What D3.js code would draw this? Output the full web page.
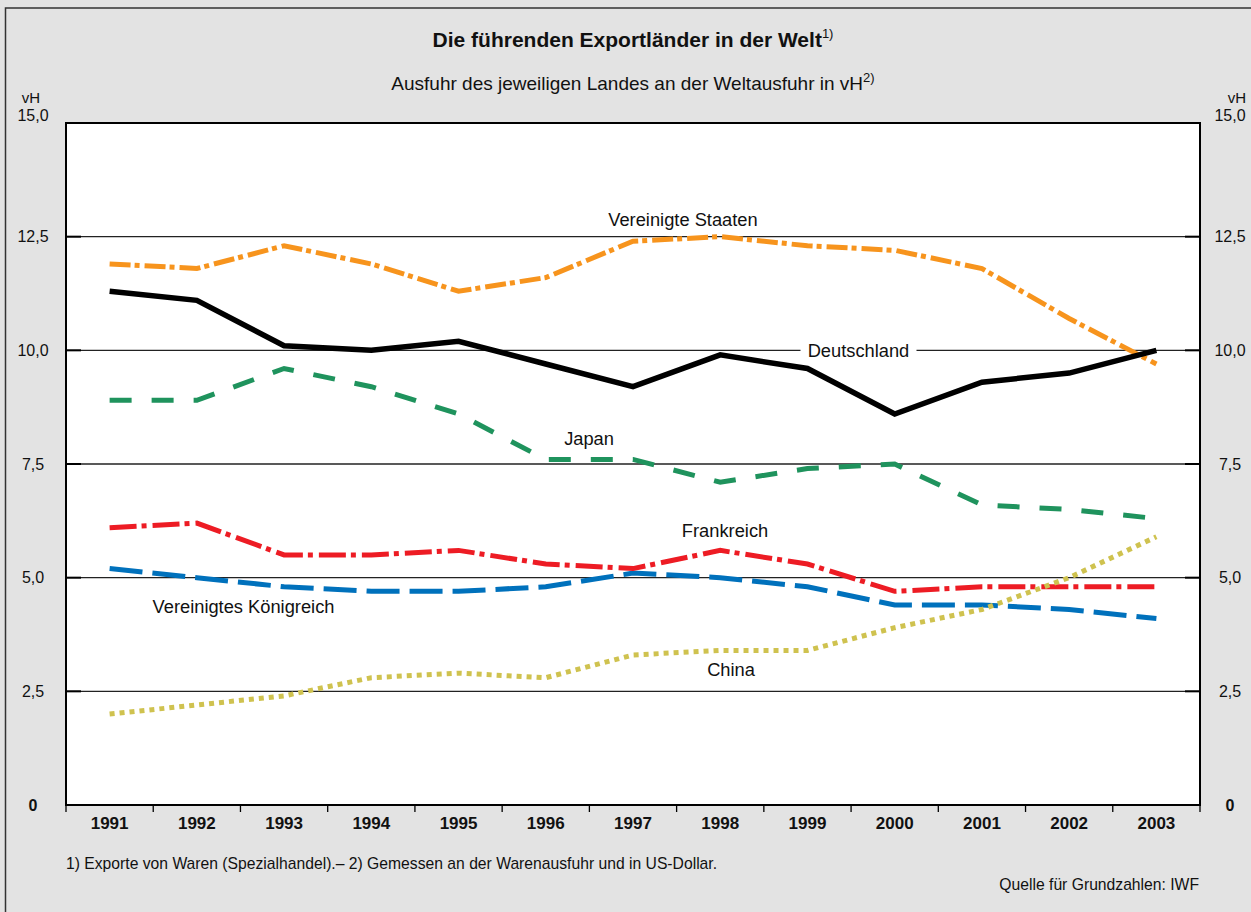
<!DOCTYPE html>
<html>
<head>
<meta charset="utf-8">
<script src="https://cdn.jsdelivr.net/npm/d3@7"></script>
<style>
  html, body { margin: 0; padding: 0; background: #e3e3e3; }
  svg { display: block; font-family: "Liberation Sans", Arial, Helvetica, sans-serif; }
</style>
</head>
<body>
<svg id="chart" width="1251" height="912"></svg>
<script>
// Anteil an der Weltausfuhr in vH, 1991–2003
const years = ["1991","1992","1993","1994","1995","1996","1997","1998","1999","2000","2001","2002","2003"];
const usa     = [11.9, 11.8, 12.3, 11.9, 11.3, 11.6, 12.4, 12.5, 12.3, 12.2, 11.8, 10.7, 9.7];
const germany = [11.3, 11.1, 10.1, 10.0, 10.2, 9.7, 9.2, 9.9, 9.6, 8.6, 9.3, 9.5, 10.0];
const japan   = [8.9, 8.9, 9.6, 9.2, 8.6, 7.6, 7.6, 7.1, 7.4, 7.5, 6.6, 6.5, 6.3];
const france  = [6.1, 6.2, 5.5, 5.5, 5.6, 5.3, 5.2, 5.6, 5.3, 4.7, 4.8, 4.8, 4.8];
const uk      = [5.2, 5.0, 4.8, 4.7, 4.7, 4.8, 5.1, 5.0, 4.8, 4.4, 4.4, 4.3, 4.1];
const china   = [2.0, 2.2, 2.4, 2.8, 2.9, 2.8, 3.3, 3.4, 3.4, 3.9, 4.3, 5.0, 5.9];
const yTicks  = [0, 2.5, 5, 7.5, 10, 12.5, 15];
const yTickLabels = ["0", "2,5", "5,0", "7,5", "10,0", "12,5", "15,0"];

const svg = d3.select("#chart");
const W = 1251, H = 912;
const plot = { left: 66, right: 1200, top: 123, bottom: 805 };

const x = d3.scaleBand().domain(years).range([plot.left, plot.right]).padding(0);
const xc = d => x(d) + x.bandwidth() / 2;
// fractional position along the year axis (for text anchors between years)
const xi = i => plot.left + x.bandwidth() * (i + 0.5);
const y = d3.scaleLinear().domain([0, 15]).range([plot.bottom, plot.top]);

// outer frame
svg.append("rect").attr("x", 0).attr("y", 0).attr("width", W).attr("height", H).attr("fill", "#e3e3e3");
svg.append("path")
  .attr("d", `M5.5,${H + 5} V8 H${W + 5}`)
  .attr("fill", "none").attr("stroke", "#333").attr("stroke-width", 1.5);

// plot area
svg.append("rect")
  .attr("x", plot.left).attr("y", plot.top)
  .attr("width", plot.right - plot.left).attr("height", plot.bottom - plot.top)
  .attr("fill", "#fff");

// horizontal grid lines
const gridVals = yTicks.filter(v => v > 0 && v < 15);
svg.append("g").selectAll("line").data(gridVals).join("line")
  .attr("x1", plot.left).attr("x2", plot.right)
  .attr("y1", d => y(d)).attr("y2", d => y(d))
  .attr("stroke", "#222").attr("stroke-width", 1.3);
// short inner ticks at both sides
[[plot.left, plot.left + 15], [plot.right - 15, plot.right]].forEach(([a, b]) => {
  svg.append("g").selectAll("line").data(gridVals).join("line")
    .attr("x1", a).attr("x2", b)
    .attr("y1", d => y(d)).attr("y2", d => y(d))
    .attr("stroke", "#000").attr("stroke-width", 2);
});

// series
const series = [
  { name: "Japan",   values: japan,   color: "#1f935d", dash: "22,20" },
  { name: "UK",      values: uk,      color: "#0071bc", dash: "33,10" },
  { name: "France",  values: france,  color: "#ed1c24", dash: "27,5,5,6" },
  { name: "China",   values: china,   color: "#cfc24f", dash: "5,5" },
  { name: "USA",     values: usa,     color: "#f7941d", dash: "21,4,5,5" },
  { name: "Germany", values: germany, color: "#000000", dash: null }
];
const line = d3.line().x((d, i) => xc(years[i])).y(d => y(d));

// "Deutschland" sits on the 10,0 line, with a white gap in the grid line
const deText = { text: "Deutschland", idx: 8.585, val: 10 };
const deX = xi(deText.idx);
svg.append("rect")
  .attr("x", deX - 58).attr("y", y(10) - 3)
  .attr("width", 116).attr("height", 6)
  .attr("fill", "#fff");

const lines = svg.append("g");
series.forEach(s => {
  lines.append("path")
    .attr("d", line(s.values))
    .attr("fill", "none")
    .attr("stroke", s.color)
    .attr("stroke-width", s.name === "Germany" ? 5.5 : 5)
    .attr("stroke-linejoin", "miter")
    .attr("stroke-linecap", "butt")
    .attr("stroke-dasharray", s.dash);
});

// plot border (drawn above the grid)
svg.append("rect")
  .attr("x", plot.left).attr("y", plot.top)
  .attr("width", plot.right - plot.left).attr("height", plot.bottom - plot.top)
  .attr("fill", "none").attr("stroke", "#000").attr("stroke-width", 2);

// x axis ticks and labels
const xAxis = d3.axisBottom(x).tickSize(0).tickPadding(0);
const xg = svg.append("g").attr("transform", `translate(0,${plot.bottom})`).call(xAxis);
xg.select(".domain").remove();
xg.selectAll("text")
  .attr("y", 24).attr("dy", 0)
  .attr("font-family", "Liberation Sans, Arial, sans-serif")
  .attr("font-size", 17).attr("font-weight", "bold").attr("fill", "#111");
const boundaries = years.map(d => x(d)).concat([plot.right]);
svg.append("g").selectAll("line").data(boundaries).join("line")
  .attr("x1", d => d).attr("x2", d => d)
  .attr("y1", plot.bottom).attr("y2", plot.bottom + 7)
  .attr("stroke", "#000").attr("stroke-width", 1.3);

// y tick labels on both sides
[33, 1230].forEach(cx => {
  svg.append("g").selectAll("text").data(yTicks).join("text")
    .attr("x", cx)
    .attr("y", d => d === 15 ? y(d) - 8 : y(d))
    .attr("dy", "0.36em")
    .attr("text-anchor", "middle")
    .attr("font-size", 16)
    .attr("font-weight", d => d === 0 ? "bold" : "normal")
    .attr("fill", "#111")
    .text((d, i) => yTickLabels[i]);
  svg.append("text")
    .attr("x", cx === 33 ? 31 : 1237).attr("y", 103)
    .attr("text-anchor", "middle").attr("font-size", 15).attr("fill", "#111")
    .text("vH");
});

// title and subtitle
const title = svg.append("text")
  .attr("x", (plot.left + plot.right) / 2).attr("y", 47)
  .attr("text-anchor", "middle").attr("font-size", 21).attr("font-weight", "bold")
  .attr("fill", "#111");
title.append("tspan").text("Die führenden Exportländer in der Welt");
title.append("tspan").attr("dy", -9).attr("font-size", 13).attr("font-weight", "normal").text("1)");

const sub = svg.append("text")
  .attr("x", (plot.left + plot.right) / 2).attr("y", 90)
  .attr("text-anchor", "middle").attr("font-size", 19).attr("fill", "#111");
sub.append("tspan").text("Ausfuhr des jeweiligen Landes an der Weltausfuhr in vH");
sub.append("tspan").attr("dy", -8).attr("font-size", 13).text("2)");

// series labels
const seriesLabels = [
  { text: "Vereinigte Staaten", idx: 6.573, val: 12.73 },
  { text: "Japan", idx: 5.496, val: 7.92 },
  { text: "Frankreich", idx: 7.055, val: 5.89 },
  { text: "Vereinigtes Königreich", idx: 1.535, val: 4.22 },
  { text: "China", idx: 7.124, val: 2.84 }
];
svg.append("g").selectAll("text").data(seriesLabels).join("text")
  .attr("x", d => xi(d.idx)).attr("y", d => y(d.val))
  .attr("text-anchor", "middle").attr("font-size", 18.3).attr("fill", "#111")
  .text(d => d.text);
svg.append("text")
  .attr("x", deX).attr("y", y(deText.val)).attr("dy", "0.35em")
  .attr("text-anchor", "middle").attr("font-size", 18.3).attr("fill", "#111")
  .text(deText.text);

// footnotes
svg.append("text")
  .attr("x", plot.left).attr("y", 869)
  .attr("font-size", 15.7).attr("fill", "#111")
  .text("1) Exporte von Waren (Spezialhandel).– 2) Gemessen an der Warenausfuhr und in US-Dollar.");
svg.append("text")
  .attr("x", plot.right - 1).attr("y", 890)
  .attr("text-anchor", "end").attr("font-size", 15.7).attr("fill", "#111")
  .text("Quelle für Grundzahlen: IWF");
</script>
</body>
</html>
